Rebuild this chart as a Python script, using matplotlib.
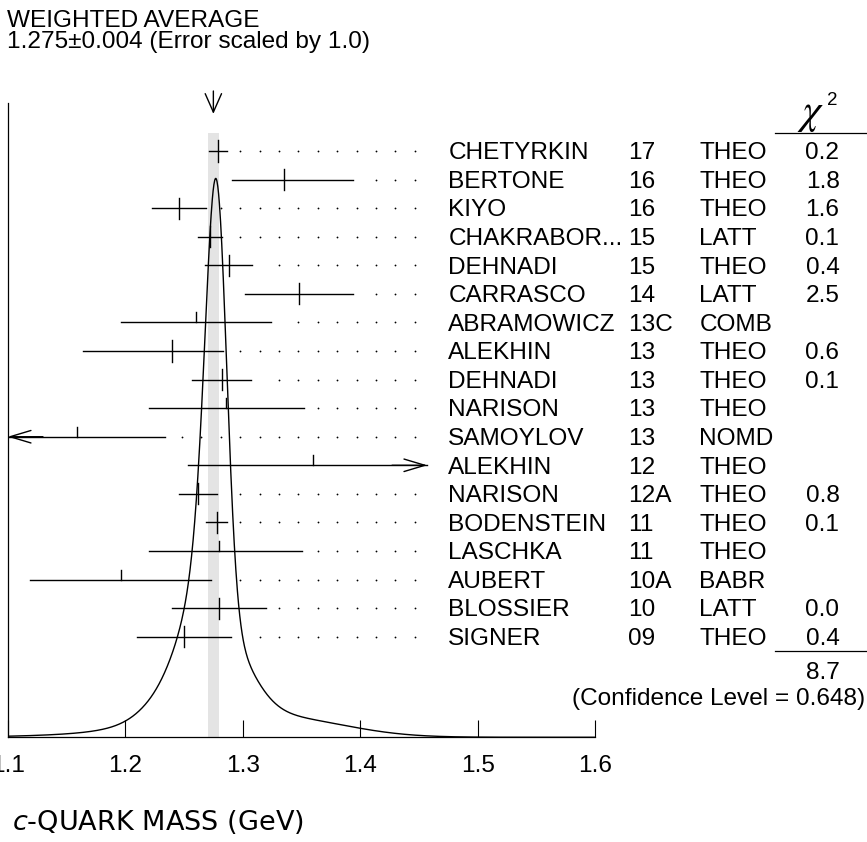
import numpy as np
import matplotlib
matplotlib.use('Agg')
import matplotlib.pyplot as plt
import matplotlib.transforms as mtransforms
from matplotlib.lines import Line2D

plt.rcParams['font.family'] = ['Liberation Sans', 'DejaVu Sans']
plt.rcParams['mathtext.fontset'] = 'dejavusans'

# ── Data (top row first) ────────────────────────────────────────────────
names = ['CHETYRKIN', 'BERTONE', 'KIYO', 'CHAKRABOR...', 'DEHNADI', 'CARRASCO',
         'ABRAMOWICZ', 'ALEKHIN', 'DEHNADI', 'NARISON', 'SAMOYLOV', 'ALEKHIN',
         'NARISON', 'BODENSTEIN', 'LASCHKA', 'AUBERT', 'BLOSSIER', 'SIGNER']
years = ['17', '16', '16', '15', '15', '14', '13C', '13', '13', '13', '13', '12',
         '12A', '11', '11', '10A', '10', '09']
techs = ['THEO', 'THEO', 'THEO', 'LATT', 'THEO', 'LATT', 'COMB', 'THEO', 'THEO',
         'THEO', 'NOMD', 'THEO', 'THEO', 'THEO', 'THEO', 'BABR', 'LATT', 'THEO']
values = [1.279, 1.335, 1.246, 1.272, 1.288, 1.348, 1.260, 1.240, 1.282,
          1.286, 1.159, 1.360, 1.262, 1.278, 1.280, 1.196, 1.280, 1.250]
err_lo = [0.008, 0.044, 0.023, 0.010, 0.020, 0.046, 0.064, 0.076, 0.025,
          0.066, 0.075, 0.107, 0.016, 0.009, 0.060, 0.077, 0.040, 0.040]
err_hi = [0.008, 0.059, 0.023, 0.010, 0.020, 0.046, 0.064, 0.043, 0.025,
          0.066, 0.075, 0.107, 0.016, 0.009, 0.070, 0.077, 0.040, 0.040]
chi2 = ['0.2', '1.8', '1.6', '0.1', '0.4', '2.5', '', '0.6', '0.1',
        '', '', '', '0.8', '0.1', '', '', '0.0', '0.4']
chi2_total = '8.7'
conf_level = '0.648'
avg, avg_err, scale = 1.275, 0.004, 1.0
band_half = 0.0046

x_min, x_max, x_clip = 1.1, 1.6, 1.457
xticks = [1.1, 1.2, 1.3, 1.4, 1.5, 1.6]

n = len(names)
rows = np.arange(n)[::-1]          # top row = n-1
y_lo, y_top = -3.52, 18.68
peak_row = 16.04

W, H = 867, 842
fig = plt.figure(figsize=(W / 100, H / 100), dpi=100)
ax = fig.add_axes([7.7 / W, 1 - 737.3 / H, (595.3 - 7.7) / W, (737.3 - 103) / H])
ax.set_xlim(x_min, x_max)
ax.set_ylim(y_lo, y_top)
for s in ['top', 'right']:
    ax.spines[s].set_visible(False)
for s in ['left', 'bottom']:
    ax.spines[s].set_linewidth(0.9)
ax.set_yticks([])
ax.set_xticks(xticks)
ax.set_xticklabels([f'{t:.1f}' for t in xticks])
ax.tick_params(axis='x', direction='in', length=12.2, width=0.8,
               labelsize=17.6, pad=13)

# gray band of weighted average
ax.fill_between([avg - band_half, avg + band_half], y_lo, 17.64,
                color='#e4e4e4', lw=0, zorder=1)

# ideogram (sum of Gaussians of the measurements used in the average)
xs = np.linspace(x_min, x_max, 1500)
ideo = np.zeros_like(xs)
for v, el, eh, c in zip(values, err_lo, err_hi, chi2):
    if c == '':
        continue
    sig = np.where(xs < v, el, eh)
    h = 1.0 / ((el + eh) / 2) ** 1.7
    ideo += h * np.exp(-0.5 * ((xs - v) / sig) ** 2)
ax.plot(xs, y_lo + ideo / ideo.max() * (peak_row - y_lo),
        color='black', lw=1.0, zorder=3)

# measurements
dot_step = 0.01649
dots = x_min + dot_step * np.arange(1, 22)
arrow_kw = dict(arrowstyle='->,head_length=1.0,head_width=0.3',
                lw=1.0, shrinkA=0, shrinkB=0, mutation_scale=15)
for y, v, el, eh, c in zip(rows, values, err_lo, err_hi, chi2):
    lo, hi = v - el, v + eh
    a, b = max(lo, x_min), min(hi, x_clip)
    ax.plot([a, b], [y, y], color='black', lw=1.0, zorder=4)
    if lo < x_min:
        ax.annotate('', xy=(x_min, y), xytext=(x_min + 0.03, y), arrowprops=arrow_kw)
    if hi > x_clip:
        ax.annotate('', xy=(x_clip, y), xytext=(x_clip - 0.03, y), arrowprops=arrow_kw)
    if c != '':
        ax.plot([v, v], [y - 0.37, y + 0.37], color='black', lw=1.0, zorder=4)
    else:
        ax.plot([v, v], [y, y + 0.35], color='black', lw=1.0, zorder=4)
    if hi <= x_clip:
        d = dots[dots > hi + 0.0106]
        ax.plot(d, np.full(len(d), y), ls='none', marker='o', ms=1.3,
                mec='none', mfc='black', zorder=2)

# arrow at the weighted average
ax.annotate('', xy=(avg, 18.30), xytext=(avg, 19.10), annotation_clip=False,
            arrowprops=dict(arrowstyle='->,head_length=0.95,head_width=0.42',
                            lw=1.0, shrinkA=0, shrinkB=0, mutation_scale=14))

# text columns
trans = mtransforms.blended_transform_factory(fig.transFigure, ax.transData)
tbase = mtransforms.offset_copy(trans, fig=fig, y=-8.3, units='dots')
fs = 17.6
for y, nm, yr, tc, c in zip(rows, names, years, techs, chi2):
    fig.text(448.3 / W, y, nm, transform=tbase, fontsize=fs, va='baseline')
    fig.text(628.3 / W, y, yr, transform=tbase, fontsize=fs, va='baseline')
    fig.text(699.3 / W, y, tc, transform=tbase, fontsize=fs, va='baseline')
    if c:
        fig.text(839.5 / W, y, c, transform=tbase, fontsize=fs, va='baseline', ha='right')

# chi-square header and total
fig.text(811 / W, 1 - 123 / H, r'$\chi$', fontsize=30, ha='center',
         va='baseline', math_fontfamily='stix')
fig.text(827 / W, 1 - 105 / H, '2', fontsize=13.5, va='baseline')
fig.add_artist(Line2D([775 / W, 1.0], [17.64, 17.64], transform=trans,
                      color='black', lw=0.9))
fig.add_artist(Line2D([775 / W, 1.0], [-0.5, -0.5], transform=trans,
                      color='black', lw=0.9))
fig.text(839.5 / W, -1.2, chi2_total, transform=tbase, fontsize=fs,
         va='baseline', ha='right')
fig.text(865 / W, -2.1, f'(Confidence Level = {conf_level})', transform=tbase,
         fontsize=fs, va='baseline', ha='right')

fig.text(7.3 / W, 1 - 26.7 / H, 'WEIGHTED AVERAGE', fontsize=fs, va='baseline')
fig.text(7.3 / W, 1 - 48.3 / H,
         f'{avg:.3f}\u00b1{avg_err:.3f} (Error scaled by {scale:.1f})',
         fontsize=fs, va='baseline')

fig.text(12 / W, 1 - 822 / H, r'$c$-QUARK MASS (GeV)', fontsize=19.5,
         va='center', family='DejaVu Sans')

fig.savefig('out.png', dpi=100)
